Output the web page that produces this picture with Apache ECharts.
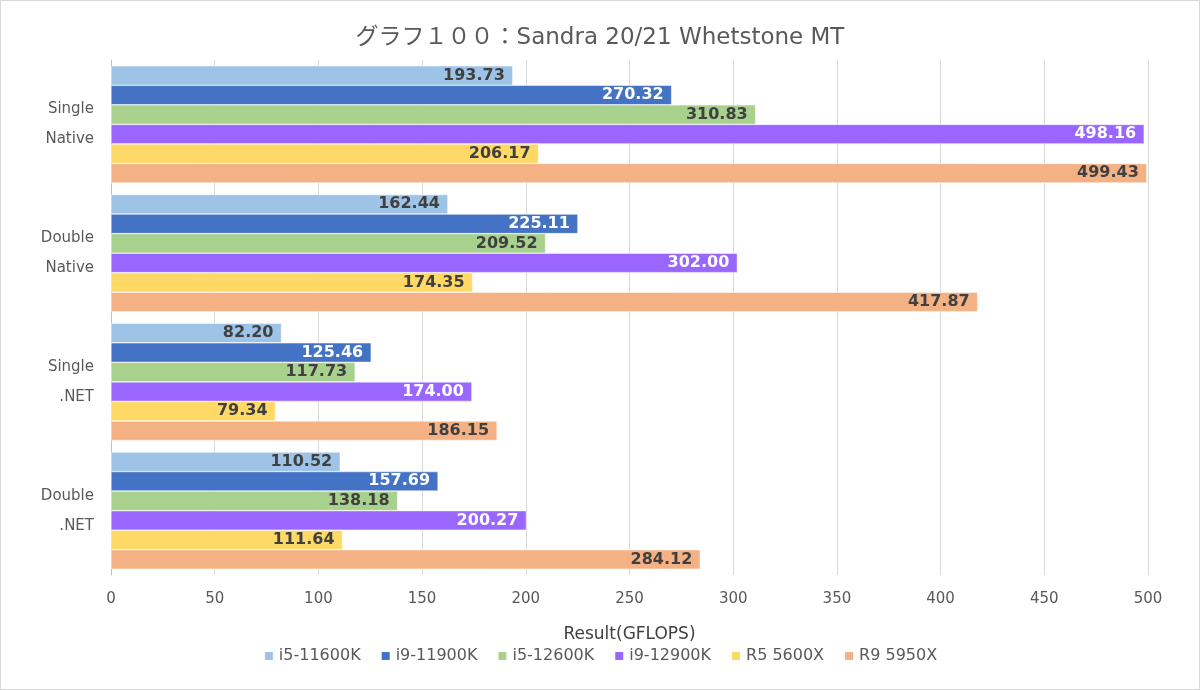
<!DOCTYPE html>
<html>
<head>
<meta charset="utf-8">
<script src="https://cdn.jsdelivr.net/npm/echarts@6/dist/echarts.min.js"></script>
<style>
html,body{margin:0;padding:0;background:#fff;}
#wrap{position:absolute;left:0;top:0;width:1198px;height:688px;border:1px solid #d9d9d9;}
#chart{width:1198px;height:688px;}
</style>
</head>
<body>
<div id="wrap"><div id="chart"></div></div>
<script>
const categories = ['Single\nNative', 'Double\nNative', 'Single\n.NET', 'Double\n.NET'];
const seriesNames = ['i5-11600K', 'i9-11900K', 'i5-12600K', 'i9-12900K', 'R5 5600X', 'R9 5950X'];
const i5_11600K = [193.73, 162.44, 82.20, 110.52];
const i9_11900K = [270.32, 225.11, 125.46, 157.69];
const i5_12600K = [310.83, 209.52, 117.73, 138.18];
const i9_12900K = [498.16, 302.00, 174.00, 200.27];
const r5_5600X = [206.17, 174.35, 79.34, 111.64];
const r9_5950X = [499.43, 417.87, 186.15, 284.12];
const xTicks = [0, 50, 100, 150, 200, 250, 300, 350, 400, 450, 500];

const values = [i5_11600K, i9_11900K, i5_12600K, i9_12900K, r5_5600X, r9_5950X];
const colors = ['#9DC3E6', '#4472C4', '#A9D18E', '#9966FF', '#FFD966', '#F4B183'];
const labelColors = ['#404040', '#ffffff', '#404040', '#ffffff', '#404040', '#404040'];
const FONT = '"DejaVu Sans", "Noto Sans CJK JP", sans-serif';

const chart = echarts.init(document.getElementById('chart'));
chart.setOption({
  animation: false,
  textStyle: { fontFamily: FONT },
  title: {
    text: 'グラフ１００：Sandra 20/21 Whetstone MT',
    left: 'center', top: 21,
    textStyle: { fontFamily: FONT, fontSize: 23, fontWeight: 'normal', color: '#595959' }
  },
  legend: {
    bottom: 20, left: 'center',
    itemWidth: 10, itemHeight: 10, itemGap: 19,
    icon: 'rect',
    textStyle: { fontFamily: FONT, fontSize: 16, color: '#595959' },
    data: seriesNames
  },
  grid: { left: 110, right: 51, top: 59, bottom: 114, containLabel: false },
  xAxis: {
    type: 'value', min: xTicks[0], max: xTicks[xTicks.length - 1], interval: 50,
    name: 'Result(GFLOPS)', nameLocation: 'middle', nameGap: 51,
    nameTextStyle: { fontFamily: FONT, fontSize: 17, color: '#404040' },
    axisLine: { show: false }, axisTick: { show: false },
    axisLabel: { fontFamily: FONT, fontSize: 15, color: '#595959', margin: 17 },
    splitLine: { lineStyle: { color: '#d9d9d9', width: 1 } }
  },
  yAxis: {
    type: 'category', data: categories, inverse: true,
    axisLine: { show: true, lineStyle: { color: '#bfbfbf' } },
    axisTick: { show: false },
    axisLabel: { fontFamily: FONT, fontSize: 15, color: '#595959', lineHeight: 30, margin: 17 }
  },
  series: values.map((v, i) => ({
    name: seriesNames[i], type: 'bar', data: v,
    barGap: '0%', barCategoryGap: '9%',
    itemStyle: { color: colors[i], borderColor: '#ffffff', borderWidth: 0.5 },
    label: {
      show: true, position: 'insideRight', distance: 8,
      formatter: p => p.value.toFixed(2),
      fontFamily: FONT, fontSize: 16, fontWeight: 'bold', color: labelColors[i]
    }
  }))
});
</script>
</body>
</html>
